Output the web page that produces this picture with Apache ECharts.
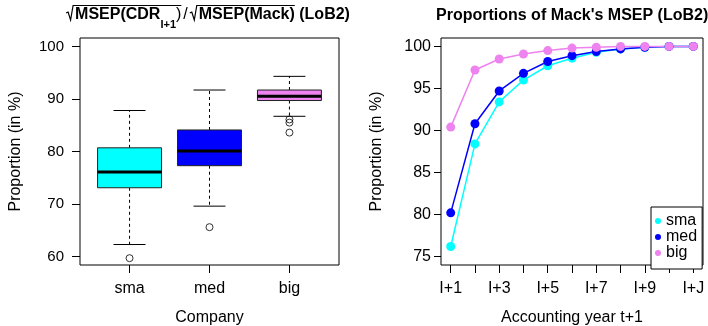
<!DOCTYPE html>
<html>
<head>
<meta charset="utf-8">
<script src="https://cdn.jsdelivr.net/npm/echarts@6/dist/echarts.min.js"></script>
<style>
  html, body { margin: 0; padding: 0; background: #fff; }
  #main { width: 708px; height: 326px; }
</style>
</head>
<body>
<div id="main"></div>
<script>
// left panel: boxplot summary
var boxCats = ['sma', 'med', 'big'];
var boxLow = [62.3, 69.6, 86.7];
var boxQ1 = [73.1, 77.3, 89.7];
var boxMed = [76.1, 80.1, 90.5];
var boxQ3 = [80.7, 84.1, 91.7];
var boxHigh = [87.8, 91.7, 94.3];
var outlierCat = ['sma', 'med', 'big', 'big', 'big'];
var outlierVal = [59.7, 65.6, 86.1, 85.5, 83.6];
var boxTicks = [60, 70, 80, 90, 100];

// right panel: proportions per accounting year
var yearCats = ['I+1', 'I+2', 'I+3', 'I+4', 'I+5', 'I+6', 'I+7', 'I+8', 'I+9', 'I+10', 'I+J'];
var smaProp = [76.2, 88.4, 93.4, 96.0, 97.7, 98.6, 99.3, 99.7, 99.9, 100, 100];
var medProp = [80.2, 90.8, 94.7, 96.8, 98.2, 98.9, 99.4, 99.7, 99.9, 100, 100];
var bigProp = [90.4, 97.2, 98.5, 99.1, 99.5, 99.8, 99.9, 100, 100, 100, 100];
var propTicks = [75, 80, 85, 90, 95, 100];
var yearLabelTicks = ['I+1', 'I+3', 'I+5', 'I+7', 'I+9', 'I+J'];

var colors = ['#00FFFF', '#0000FF', '#EE82EE'];
var FONT = '"Liberation Sans", Arial, Helvetica, sans-serif';

var chart = echarts.init(document.getElementById('main'));

// box rows for the custom series
var boxData = [];
for (var i = 0; i < boxCats.length; i++) {
    boxData.push([i + 1, boxLow[i], boxQ1[i], boxMed[i], boxQ3[i], boxHigh[i]]);
}
var outlierData = [];
for (var i = 0; i < outlierVal.length; i++) {
    outlierData.push([boxCats.indexOf(outlierCat[i]) + 1, outlierVal[i]]);
}
function toPairs(arr) {
    return arr.map(function (v, i) { return [i + 1, v]; });
}

function renderBox(params, api) {
    var x = api.value(0);
    var lo = api.coord([x, api.value(1)]);
    var q1 = api.coord([x, api.value(2)]);
    var md = api.coord([x, api.value(3)]);
    var q3 = api.coord([x, api.value(4)]);
    var hi = api.coord([x, api.value(5)]);
    var half = api.size([0.4, 0])[0];
    var cap = half / 2;
    var cx = lo[0];
    var black = { stroke: '#000', lineWidth: 1 };
    return {
        type: 'group',
        children: [
            { type: 'line', shape: { x1: cx, y1: q3[1], x2: cx, y2: hi[1] }, style: { stroke: '#000', lineWidth: 1, lineDash: [3, 3] } },
            { type: 'line', shape: { x1: cx, y1: q1[1], x2: cx, y2: lo[1] }, style: { stroke: '#000', lineWidth: 1, lineDash: [3, 3] } },
            { type: 'line', shape: { x1: cx - cap, y1: hi[1], x2: cx + cap, y2: hi[1] }, style: black },
            { type: 'line', shape: { x1: cx - cap, y1: lo[1], x2: cx + cap, y2: lo[1] }, style: black },
            { type: 'rect', shape: { x: cx - half, y: q3[1], width: half * 2, height: q1[1] - q3[1] },
              style: { fill: colors[params.dataIndex], stroke: '#222', lineWidth: 1 } },
            { type: 'line', shape: { x1: cx - half, y1: md[1], x2: cx + half, y2: md[1] }, style: { stroke: '#000', lineWidth: 3 } }
        ]
    };
}

// left title with radicals, built from measured text pieces
var cvs = document.createElement('canvas').getContext('2d');
function tw(text, font) { cvs.font = font; return cvs.measureText(text).width; }
var fB = 'bold 16px ' + FONT, fN = '16px ' + FONT, fS = 'bold 11px ' + FONT;
var titleEls = [];
var pieces = [
    { rad: true },
    { t: 'MSEP(CDR', f: fB },
    { t: 'I+1', f: fS, sub: true },
    { t: ')', f: fN, endOver: true },
    { t: '/', f: fN, pad: 2 },
    { rad: true },
    { t: 'MSEP(Mack)', f: fB, endOver: true },
    { t: ' (LoB2)', f: fB }
];
var RADW = 8;
var total = 0;
pieces.forEach(function (p) { total += p.rad ? RADW + 1 : tw(p.t, p.f) + (p.pad || 0) * 2; });
var tx = 208 - total / 2;
var overY = 5.5, radStart = 0;
pieces.forEach(function (p) {
    if (p.rad) {
        radStart = tx;
        tx += RADW + 1;
        return;
    }
    tx += p.pad || 0;
    var w = tw(p.t, p.f);
    titleEls.push({ type: 'text', left: tx, top: p.sub ? 19.5 : 6.5,
        style: { text: p.t, font: p.f, fill: '#000' } });
    tx += w + (p.pad || 0);
    if (p.endOver) {
        titleEls.push({ type: 'polyline', shape: { points: [
            [radStart, 13], [radStart + 2, 12], [radStart + 4.5, 20], [radStart + 7, overY], [tx, overY]
        ] }, style: { stroke: '#000', lineWidth: 1.2, fill: null } });
    }
});
titleEls.push({ type: 'text', left: 436, top: 8,
    style: { text: "Proportions of Mack's MSEP (LoB2)", font: fB, fill: '#000' } });

option = {
    animation: false,
    textStyle: { fontFamily: FONT },
    grid: [
        { left: 80, right: 369, top: 38, bottom: 61, show: true, borderColor: '#000', borderWidth: 1, outerBoundsMode: 'none' },
        { left: 441, right: 5, top: 38, bottom: 61, show: true, borderColor: '#000', borderWidth: 1, outerBoundsMode: 'none' }
    ],
    xAxis: [
        { type: 'value', gridIndex: 0, min: 0.38, max: 3.62, name: 'Company', nameLocation: 'middle', nameGap: 45,
            nameTextStyle: { color: '#000', fontSize: 16, fontFamily: FONT },
            axisLine: { show: false }, splitLine: { show: false },
            axisTick: { show: true, length: 8, lineStyle: { color: '#000' }, customValues: [1, 2, 3] },
            axisLabel: { color: '#000', fontSize: 16, fontFamily: FONT, margin: 16, customValues: [1, 2, 3],
                formatter: function (v) { return boxCats[v - 1]; } } },
        { type: 'value', gridIndex: 1, min: 0.6, max: 11.4, name: 'Accounting year t+1', nameLocation: 'middle', nameGap: 45,
            nameTextStyle: { color: '#000', fontSize: 16, fontFamily: FONT },
            axisLine: { show: false }, splitLine: { show: false },
            axisTick: { show: true, length: 8, lineStyle: { color: '#000' }, customValues: yearCats.map(function (c, i) { return i + 1; }) },
            axisLabel: { color: '#000', fontSize: 16, fontFamily: FONT, margin: 16,
                customValues: yearLabelTicks.map(function (c) { return yearCats.indexOf(c) + 1; }),
                formatter: function (v) { return yearCats[v - 1]; } } }
    ],
    yAxis: [
        { type: 'value', gridIndex: 0, min: 58.4, max: 101.6, name: 'Proportion (in %)', nameLocation: 'middle', nameGap: 56,
            nameTextStyle: { color: '#000', fontSize: 16, fontFamily: FONT },
            axisLine: { show: false }, splitLine: { show: false },
            axisTick: { show: true, length: 8, lineStyle: { color: '#000' }, customValues: boxTicks },
            axisLabel: { color: '#000', fontSize: 15, fontFamily: FONT, margin: 16, customValues: boxTicks } },
        { type: 'value', gridIndex: 1, min: 74, max: 101, name: 'Proportion (in %)', nameLocation: 'middle', nameGap: 56,
            nameTextStyle: { color: '#000', fontSize: 16, fontFamily: FONT },
            axisLine: { show: false }, splitLine: { show: false },
            axisTick: { show: true, length: 7, lineStyle: { color: '#000' }, customValues: propTicks },
            axisLabel: { color: '#000', fontSize: 16, fontFamily: FONT, margin: 10, customValues: propTicks } }
    ],
    legend: {
        data: ['sma', 'med', 'big'],
        orient: 'vertical',
        left: 651, top: 207,
        padding: [6, 5, 8, 4],
        itemGap: 0,
        itemWidth: 6, itemHeight: 6,
        icon: 'circle',
        selectedMode: false,
        borderColor: '#000', borderWidth: 1,
        backgroundColor: '#fff',
        textStyle: { color: '#000', fontSize: 16, fontFamily: FONT, lineHeight: 14 }
    },
    graphic: titleEls,
    series: [
        { name: 'box', type: 'custom', xAxisIndex: 0, yAxisIndex: 0, renderItem: renderBox,
          encode: { x: 0, y: [1, 2, 3, 4, 5] }, data: boxData },
        { name: 'outliers', type: 'scatter', xAxisIndex: 0, yAxisIndex: 0, symbol: 'circle', symbolSize: 7,
          itemStyle: { color: 'rgba(255,255,255,0)', borderColor: '#000', borderWidth: 1 }, data: outlierData },
        { name: 'sma', type: 'line', xAxisIndex: 1, yAxisIndex: 1, symbol: 'circle', symbolSize: 9,
          itemStyle: { color: colors[0] }, lineStyle: { color: colors[0], width: 1.5 }, data: toPairs(smaProp) },
        { name: 'med', type: 'line', xAxisIndex: 1, yAxisIndex: 1, symbol: 'circle', symbolSize: 9,
          itemStyle: { color: colors[1] }, lineStyle: { color: colors[1], width: 1.5 }, data: toPairs(medProp) },
        { name: 'big', type: 'line', xAxisIndex: 1, yAxisIndex: 1, symbol: 'circle', symbolSize: 9,
          itemStyle: { color: colors[2] }, lineStyle: { color: colors[2], width: 1.5 }, data: toPairs(bigProp) }
    ]
};

chart.setOption(option);
</script>
</body>
</html>
